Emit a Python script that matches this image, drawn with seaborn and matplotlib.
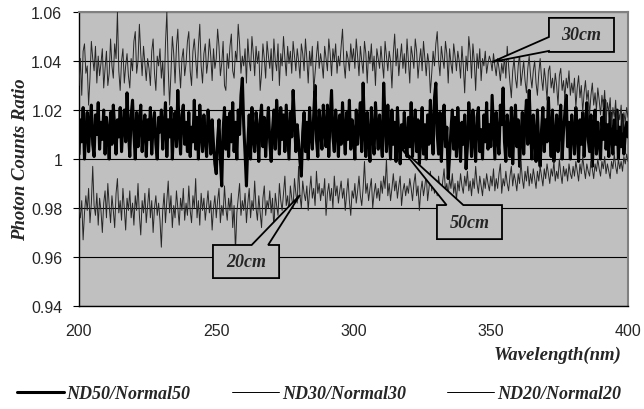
import numpy as np
import pandas as pd
import matplotlib
matplotlib.use("Agg")
import matplotlib.pyplot as plt
from matplotlib.patches import Polygon
import seaborn as sns

# ---------------- data (0.5 nm sampling) ----------------
wavelength = [200 + 0.5 * i for i in range(401)]

nd30 = [
    1.030, 1.041, 1.026, 1.044, 1.047, 1.035, 1.038, 1.022, 1.033, 1.048, 1.041, 1.036, 1.046, 1.031, 1.042, 1.034, 1.039, 1.045, 1.029, 1.037,
    1.044, 1.030, 1.035, 1.049, 1.038, 1.033, 1.047, 1.041, 1.060, 1.036, 1.028, 1.040, 1.045, 1.031, 1.038, 1.043, 1.034, 1.029, 1.041, 1.036,
    1.048, 1.052, 1.035, 1.040, 1.055, 1.043, 1.034, 1.046, 1.039, 1.032, 1.041, 1.037, 1.030, 1.044, 1.049, 1.035, 1.028, 1.042, 1.038, 1.045,
    1.033, 1.040, 1.026, 1.047, 1.060, 1.037, 1.022, 1.035, 1.050, 1.043, 1.031, 1.046, 1.053, 1.038, 1.029, 1.041, 1.045, 1.034, 1.039, 1.048,
    1.052, 1.036, 1.030, 1.044, 1.049, 1.041, 1.033, 1.046, 1.055, 1.038, 1.031, 1.043, 1.047, 1.035, 1.040, 1.049, 1.042, 1.032, 1.045, 1.037,
    1.041, 1.053, 1.046, 1.034, 1.039, 1.048, 1.030, 1.028, 1.043, 1.037, 1.046, 1.051, 1.036, 1.033, 1.044, 1.040, 1.055, 1.047, 1.035, 1.042,
    1.038, 1.045, 1.031, 1.049, 1.040, 1.036, 1.050, 1.043, 1.034, 1.046, 1.039, 1.044, 1.028, 1.035, 1.047, 1.041, 1.033, 1.048, 1.042, 1.037,
    1.045, 1.032, 1.049, 1.040, 1.036, 1.047, 1.030, 1.043, 1.038, 1.050, 1.041, 1.034, 1.046, 1.039, 1.044, 1.035, 1.048, 1.042, 1.036, 1.045,
    1.040, 1.033, 1.047, 1.043, 1.036, 1.049, 1.041, 1.031, 1.044, 1.038, 1.046, 1.028, 1.035, 1.042, 1.048, 1.037, 1.043, 1.039, 1.033, 1.046,
    1.041, 1.036, 1.049, 1.043, 1.034, 1.045, 1.040, 1.047, 1.035, 1.042, 1.038, 1.046, 1.053, 1.039, 1.033, 1.044, 1.041, 1.036, 1.047, 1.040,
    1.045, 1.037, 1.049, 1.042, 1.034, 1.046, 1.040, 1.035, 1.048, 1.043, 1.031, 1.044, 1.039, 1.047, 1.036, 1.042, 1.030, 1.045, 1.041, 1.037,
    1.046, 1.039, 1.033, 1.048, 1.042, 1.036, 1.044, 1.040, 1.029, 1.043, 1.051, 1.038, 1.045, 1.034, 1.041, 1.047, 1.037, 1.043, 1.035, 1.049,
    1.040, 1.031, 1.046, 1.042, 1.037, 1.049, 1.044, 1.033, 1.040, 1.045, 1.036, 1.048, 1.041, 1.034, 1.043, 1.039, 1.027, 1.035, 1.044, 1.038,
    1.047, 1.052, 1.040, 1.034, 1.046, 1.041, 1.037, 1.048, 1.043, 1.031, 1.045, 1.039, 1.035, 1.047, 1.042, 1.036, 1.044, 1.040, 1.033, 1.046,
    1.038, 1.027, 1.042, 1.036, 1.050, 1.044, 1.033, 1.047, 1.040, 1.028, 1.043, 1.037, 1.045, 1.032, 1.041, 1.038, 1.044, 1.035, 1.039, 1.042,
    1.040, 1.036, 1.043, 1.038, 1.034, 1.041, 1.037, 1.032, 1.039, 1.035, 1.042, 1.033, 1.046, 1.038, 1.031, 1.025, 1.036, 1.041, 1.033, 1.029,
    1.038, 1.043, 1.030, 1.035, 1.040, 1.032, 1.027, 1.037, 1.042, 1.034, 1.029, 1.036, 1.040, 1.031, 1.026, 1.035, 1.041, 1.033, 1.028, 1.037,
    1.032, 1.024, 1.036, 1.038, 1.029, 1.033, 1.027, 1.035, 1.030, 1.022, 1.034, 1.037, 1.028, 1.032, 1.025, 1.033, 1.029, 1.036, 1.026, 1.031,
    1.027, 1.033, 1.021, 1.029, 1.034, 1.025, 1.030, 1.019, 1.027, 1.032, 1.024, 1.028, 1.018, 1.026, 1.031, 1.022, 1.027, 1.020, 1.029, 1.024,
    1.018, 1.026, 1.021, 1.028, 1.015, 1.023, 1.019, 1.025, 1.013, 1.021, 1.017, 1.024, 1.012, 1.020, 1.016, 1.022, 1.011, 1.019, 1.015, 1.021,
    1.017,
]

nd50 = [
    1.002, 1.016, 1.007, 1.021, 1.000, 1.012, 1.019, 1.003, 1.014, 1.022, 1.006, 1.001, 1.018, 1.010, 1.023, 1.004, 1.015, 1.008, 1.020, 1.002,
    1.017, 1.011, 1.000, 1.019, 1.006, 1.022, 1.013, 1.002, 1.016, 1.009, 1.021, 1.003, 1.014, 1.020, 1.007, 1.027, 1.012, 1.001, 1.018, 1.024,
    1.010, 1.000, 1.019, 1.005, 1.015, 1.022, 1.003, 1.012, 1.018, 1.001, 1.016, 1.008, 1.021, 1.002, 1.014, 1.019, 1.006, 1.000, 1.017, 1.011,
    1.020, 1.004, 1.013, 1.023, 1.001, 1.016, 1.009, 1.021, 1.000, 1.014, 1.019, 1.005, 1.028, 1.012, 1.002, 1.018, 1.022, 1.006, 1.015, 1.003,
    1.019, 1.001, 1.013, 1.007, 1.024, 1.004, 1.017, 1.000, 1.022, 1.011, 1.003, 1.018, 1.008, 1.001, 1.020, 1.013, 1.002, 1.016, 1.006, 0.998,
    0.994, 1.008, 1.016, 1.000, 0.989, 1.012, 1.021, 1.004, 1.017, 1.001, 1.019, 1.007, 1.023, 1.003, 1.015, 1.000, 1.020, 1.010, 1.026, 1.033,
    1.014, 1.002, 0.989, 1.006, 1.018, 1.000, 1.021, 1.009, 1.003, 1.019, 1.012, 0.999, 1.016, 1.022, 1.005, 1.017, 1.001, 1.013, 1.021, 1.007,
    0.999, 1.012, 1.020, 1.004, 1.024, 1.015, 1.002, 1.021, 1.008, 1.018, 1.003, 1.022, 1.011, 1.000, 1.019, 1.009, 1.028, 1.016, 1.003, 1.014,
    1.007, 0.999, 0.993, 1.011, 1.019, 1.003, 1.015, 1.000, 1.021, 1.010, 1.004, 1.018, 1.030, 1.008, 1.001, 1.020, 1.013, 1.004, 1.022, 1.012,
    1.005, 1.022, 1.001, 1.017, 1.028, 1.009, 1.003, 1.020, 1.013, 1.001, 1.018, 1.006, 1.023, 1.011, 1.002, 1.019, 1.008, 1.024, 1.004, 1.016,
    1.010, 1.000, 1.020, 1.006, 1.015, 1.023, 1.003, 1.031, 1.012, 1.001, 1.019, 1.008, 0.999, 1.021, 1.010, 1.002, 1.023, 1.013, 1.004, 1.018,
    1.008, 1.001, 1.031, 1.016, 1.003, 1.022, 1.010, 1.000, 1.020, 1.006, 1.015, 0.999, 1.021, 1.009, 0.998, 1.014, 1.004, 1.019, 1.007, 1.001,
    1.017, 1.005, 1.023, 1.001, 1.013, 1.020, 1.003, 1.016, 0.998, 1.009, 1.021, 1.002, 1.014, 1.000, 1.018, 1.006, 1.024, 1.012, 1.002, 1.025,
    1.031, 1.010, 1.002, 1.019, 0.999, 1.014, 1.022, 1.005, 1.013, 0.992, 1.001, 1.012, 1.020, 1.004, 1.017, 1.001, 1.021, 1.009, 0.999, 1.015,
    1.006, 1.018, 0.996, 1.005, 1.023, 1.013, 1.001, 1.020, 1.009, 0.999, 1.017, 1.021, 1.003, 1.012, 1.000, 1.018, 1.007, 1.023, 1.004, 1.014,
    1.005, 1.026, 1.013, 1.000, 1.019, 1.009, 1.002, 1.022, 1.014, 1.029, 1.007, 0.999, 1.018, 1.011, 1.001, 1.021, 0.998, 1.013, 1.022, 1.005,
    1.016, 0.997, 1.009, 1.019, 1.002, 1.015, 1.024, 1.006, 1.028, 1.012, 1.000, 1.018, 1.009, 0.999, 1.020, 1.005, 0.997, 1.012, 1.021, 1.003,
    1.016, 1.007, 1.025, 1.012, 1.001, 1.020, 0.999, 1.009, 1.018, 1.003, 1.014, 1.022, 1.000, 1.011, 1.019, 1.026, 1.005, 1.015, 1.000, 1.018,
    1.011, 1.002, 1.021, 1.012, 0.999, 1.016, 1.006, 1.019, 1.001, 1.013, 1.023, 1.008, 1.003, 1.018, 0.997, 1.011, 1.020, 1.002, 1.015, 1.007,
    1.000, 1.017, 1.008, 1.024, 1.004, 1.014, 1.001, 1.019, 1.010, 1.002, 1.016, 1.006, 1.020, 1.000, 1.013, 1.005, 1.018, 1.002, 1.010, 1.015,
    1.009,
]

nd20 = [
    0.980, 0.976, 0.983, 0.967, 0.978, 0.985, 0.979, 0.988, 0.974, 0.982, 0.997, 0.981, 0.977, 0.986, 0.973, 0.984, 0.979, 0.970, 0.982, 0.987,
    0.976, 0.990, 0.981, 0.974, 0.985, 0.979, 0.972, 0.986, 0.992, 0.978, 0.983, 0.975, 0.988, 0.980, 0.971, 0.984, 0.979, 0.987, 0.976, 0.982,
    0.973, 0.985, 0.979, 0.990, 0.977, 0.969, 0.983, 0.978, 0.986, 0.974, 0.981, 0.988, 0.976, 0.983, 0.970, 0.980, 0.985, 0.977, 0.982, 0.975,
    0.964, 0.979, 0.986, 0.974, 0.983, 0.991, 0.978, 0.985, 0.972, 0.981, 0.976, 0.987, 0.980, 0.973, 0.984, 0.979, 0.988, 0.975, 0.982, 0.977,
    0.989, 0.979, 0.974, 0.985, 0.980, 0.992, 0.976, 0.983, 0.973, 0.986, 0.979, 0.984, 0.975, 0.981, 0.987, 0.978, 0.983, 0.971, 0.980, 0.985,
    0.976, 0.983, 0.988, 0.974, 0.981, 0.977, 0.989, 0.980, 0.975, 0.984, 0.979, 0.986, 0.972, 0.981, 0.962, 0.978, 0.984, 0.990, 0.977, 0.983,
    0.979, 0.986, 0.974, 0.982, 0.988, 0.976, 0.983, 0.979, 0.991, 0.980, 0.975, 0.985, 0.978, 0.972, 0.984, 0.989, 0.977, 0.983, 0.980, 0.987,
    0.978, 0.984, 0.971, 0.986, 0.981, 0.977, 0.990, 0.983, 0.979, 0.986, 0.993, 0.981, 0.985, 0.978, 0.989, 0.984, 0.980, 0.992, 0.986, 0.982,
    0.997, 0.985, 0.980, 0.991, 0.986, 0.983, 0.989, 0.979, 0.987, 0.993, 0.984, 0.988, 0.981, 0.995, 0.986, 0.990, 0.983, 0.988, 0.985, 0.992,
    0.977, 0.986, 0.990, 0.983, 0.988, 0.980, 0.993, 0.985, 0.989, 0.982, 0.987, 0.991, 0.984, 0.988, 0.979, 0.986, 0.992, 0.983, 0.977, 0.987,
    0.984, 0.990, 0.982, 0.987, 0.993, 0.985, 0.981, 0.988, 0.999, 0.986, 0.990, 0.983, 0.988, 0.992, 0.980, 0.986, 0.990, 0.984, 0.988, 0.983,
    0.991, 0.986, 0.993, 0.988, 1.000, 0.985, 0.990, 0.983, 0.988, 0.994, 0.987, 0.991, 0.984, 0.989, 0.993, 0.981, 0.987, 0.990, 0.985, 0.989,
    0.986, 0.992, 0.988, 0.983, 0.990, 0.994, 0.985, 0.989, 0.979, 0.987, 0.991, 0.985, 0.989, 0.994, 0.983, 0.988, 0.995, 0.987, 0.991, 0.986,
    0.990, 0.985, 0.993, 0.988, 0.984, 0.991, 0.996, 0.987, 0.990, 0.985, 0.992, 0.988, 0.994, 0.986, 0.990, 0.983, 0.991, 0.987, 0.994, 0.989,
    0.986, 0.993, 0.989, 0.995, 0.987, 0.991, 0.985, 0.992, 0.988, 0.997, 0.990, 0.986, 0.993, 0.989, 0.985, 0.992, 0.988, 0.994, 0.990, 0.987,
    0.993, 0.989, 0.996, 0.987, 0.992, 0.988, 0.994, 0.998, 0.986, 0.992, 0.989, 0.995, 0.990, 0.987, 0.993, 0.997, 0.989, 0.994, 0.991, 0.987,
    0.994, 0.990, 0.999, 0.992, 0.988, 0.995, 0.991, 0.997, 0.989, 0.994, 0.990, 0.996, 0.992, 0.988, 0.995, 0.991, 0.997, 0.993, 0.989, 0.996,
    0.992, 0.998, 0.994, 0.990, 0.996, 0.993, 0.999, 0.991, 0.995, 0.992, 1.000, 0.994, 0.990, 0.997, 0.993, 0.996, 0.991, 0.998, 0.994, 0.992,
    0.997, 0.993, 0.999, 0.995, 0.991, 0.998, 0.994, 1.001, 0.996, 0.992, 0.998, 0.995, 0.993, 0.999, 0.996, 0.992, 0.998, 0.995, 1.000, 0.996,
    0.993, 0.999, 0.996, 1.001, 0.994, 0.998, 0.995, 0.992, 0.999, 0.996, 1.002, 0.997, 0.994, 1.000, 0.996, 0.999, 0.995, 1.001, 0.998, 1.002,
    0.999,
]

series_labels = ["ND50/Normal50", "ND30/Normal30", "ND20/Normal20"]
x_ticks = [200, 250, 300, 350, 400]
y_ticks = [0.94, 0.96, 0.98, 1.00, 1.02, 1.04, 1.06]
y_tick_labels = ["0.94", "0.96", "0.98", "1", "1.02", "1.04", "1.06"]

# callouts (data coordinates): label, box edges, wedge base points, wedge tip
callout_text = ["30cm", "50cm", "20cm"]
callout_box_left = [371.2, 330.4, 248.8]
callout_box_right = [394.9, 354.1, 272.9]
callout_box_bottom = [1.0437, 0.9673, 0.9514]
callout_box_top = [1.0576, 0.9812, 0.9649]
callout_side = ["left", "top", "top"]
callout_base_a = [1.0498, 333.9, 262.9]
callout_base_b = [1.0441, 340.0, 268.9]
callout_tip_x = [350.5, 317.6, 280.5]
callout_tip_y = [1.0396, 1.0041, 0.9853]

# ---------------- style ----------------
sns.set_style("white")
plt.rcParams["font.family"] = ["Liberation Sans", "DejaVu Sans"]
serif_bi = dict(family=["Liberation Serif", "DejaVu Serif"], weight="bold", style="italic")

fig = plt.figure(figsize=(6.44, 4.10), dpi=100)
ax = fig.add_axes([79 / 644, 1 - 307 / 410, 549 / 644, 294 / 410])
ax.set_facecolor("#C0C0C0")

df = pd.DataFrame({"wavelength": wavelength, "ND50": nd50, "ND30": nd30, "ND20": nd20})

sns.lineplot(data=df, x="wavelength", y="ND50", ax=ax, color="black",
             linewidth=2.2, label=series_labels[0], zorder=3)
sns.lineplot(data=df, x="wavelength", y="ND30", ax=ax, color="#262626",
             linewidth=0.7, label=series_labels[1], zorder=4)
sns.lineplot(data=df, x="wavelength", y="ND20", ax=ax, color="#262626",
             linewidth=0.7, label=series_labels[2], zorder=4)

ax.set_xlim(200, 400)
ax.set_ylim(0.94, 1.06)
ax.set_xticks(x_ticks)
ax.set_xticklabels([str(t) for t in x_ticks])
ax.set_yticks(y_ticks)
ax.set_yticklabels(y_tick_labels)
ax.yaxis.grid(True, color="black", linewidth=0.8, zorder=1)
ax.xaxis.grid(False)
ax.set_axisbelow(True)

for s in ["left", "bottom"]:
    ax.spines[s].set_color("black")
    ax.spines[s].set_linewidth(1.0)
for s in ["top", "right"]:
    ax.spines[s].set_color("#808080")
    ax.spines[s].set_linewidth(1.5)

ax.tick_params(axis="x", direction="in", length=5, width=0.8, color="black",
               labelsize=11.5, pad=12)
ax.tick_params(axis="y", direction="out", length=4, width=0.8, color="black",
               labelsize=11.5, pad=8, left=True)

ax.set_ylabel("Photon Counts Ratio", fontsize=13.5, **serif_bi)
ax.yaxis.set_label_coords(-(79 - 29) / 549, 0.5)
ax.set_xlabel("Wavelength(nm)", fontsize=13.5, ha="right", va="center", **serif_bi)
ax.xaxis.set_label_coords((622 - 79) / 549, -(355 - 307) / 294)

# callouts: one closed outline = box with a wedge pointing at the curve
for i, t in enumerate(callout_text):
    L, R = callout_box_left[i], callout_box_right[i]
    B, T = callout_box_bottom[i], callout_box_top[i]
    tip = (callout_tip_x[i], callout_tip_y[i])
    if callout_side[i] == "left":
        pts = [(L, T), (L, callout_base_a[i]), tip, (L, callout_base_b[i]),
               (L, B), (R, B), (R, T)]
    else:
        pts = [(L, T), (callout_base_a[i], T), tip, (callout_base_b[i], T),
               (R, T), (R, B), (L, B)]
    ax.add_patch(Polygon(pts, closed=True, fc="#C0C0C0", ec="black", lw=1.3,
                         joinstyle="miter", zorder=6))
    ax.text((L + R) / 2, (B + T) / 2, t, ha="center", va="center",
            fontsize=13, zorder=7, **serif_bi)

# legend
if ax.legend_ is not None:
    ax.legend_.remove()
handles, labels = ax.get_legend_handles_labels()
leg = fig.legend(handles, labels, loc="center", bbox_to_anchor=(319 / 644, 1 - 395 / 410),
                 ncol=3, frameon=False, handlelength=2.6, handletextpad=0.15,
                 columnspacing=2.3, prop=dict(size=13, **serif_bi))
for line in leg.get_lines():
    line.set_color("black")

fig.savefig("out.png", dpi=100)
